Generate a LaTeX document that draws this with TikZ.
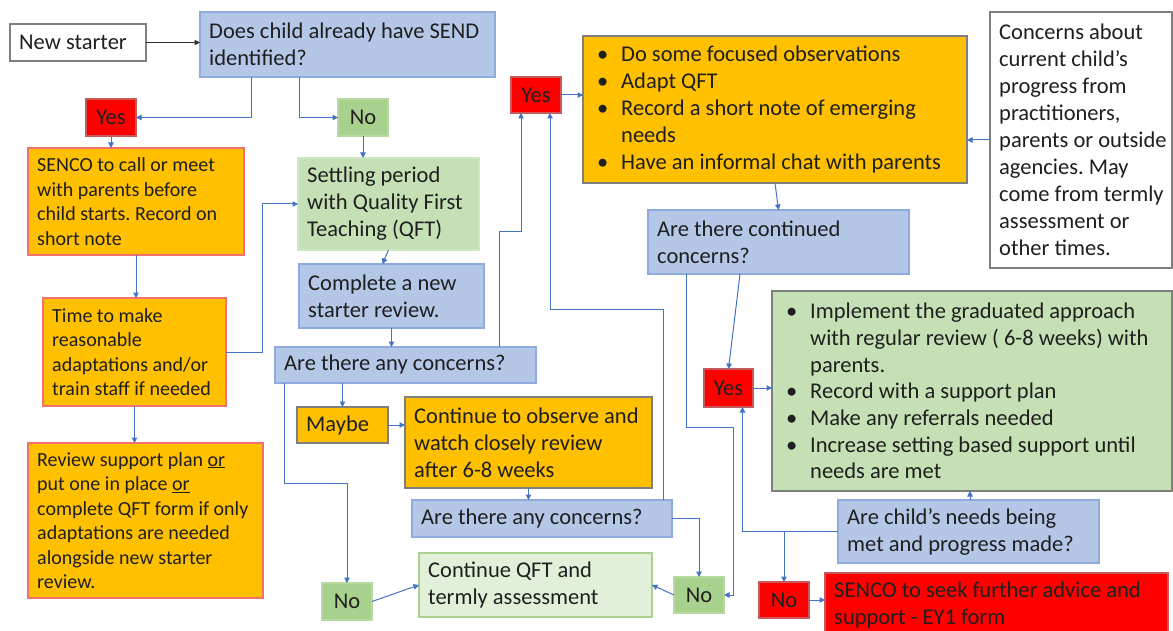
\documentclass[tikz,border=0pt]{standalone}
\usepackage{fontspec}
\setmainfont{Carlito}
\usetikzlibrary{arrows.meta}
\definecolor{bfill}{HTML}{B4C7E7}
\definecolor{bline}{HTML}{8FAADC}
\definecolor{ofill}{HTML}{FFC000}
\definecolor{oline}{HTML}{F4706B}
\definecolor{gline}{HTML}{7F7F7F}
\definecolor{rfill}{HTML}{FF0000}
\definecolor{rline}{HTML}{C55A5A}
\definecolor{nfill}{HTML}{A9D18E}
\definecolor{nline}{HTML}{B9DA9F}
\definecolor{sfill}{HTML}{C5E0B4}
\definecolor{sline}{HTML}{D0E6C2}
\definecolor{qfill}{HTML}{E2F0D9}
\definecolor{conn}{HTML}{4472C4}
\frenchspacing
% name, style, x1, y1, x2, y2, font style, text
\newcommand{\mkbox}[8]{%
  \node[#2, anchor=north west, minimum width={(#5-#3)*1pt}, minimum height={(#6-#4)*1pt}] (#1) at (#3,#4) {};
  \node[txt, #7, anchor=west] (#1-t) at ([xshift=9pt]#1.west) {#8};}
% name, style, x1, y1, x2, y2, text (centred)
\newcommand{\mktag}[7]{%
  \node[#2, fbig, text=black!88, anchor=north west, minimum width={(#5-#3)*1pt}, minimum height={(#6-#4)*1pt}] (#1) at (#3,#4) {#7};}
\newcommand{\bl}{\makebox[29pt][l]{\hspace{5pt}\textbullet}}
\newcommand{\bi}{\hspace*{29pt}}
\tikzset{
  box/.style={draw, line width=1.2pt, inner sep=0pt, outer sep=0pt},
  blueb/.style={box, fill=bfill, draw=bline},
  orngb/.style={box, fill=ofill, draw=oline},
  orngg/.style={box, fill=ofill, draw=gline},
  redb/.style={box, fill=rfill, draw=rline},
  nob/.style={box, fill=nfill, draw=nline},
  setlb/.style={box, fill=sfill, draw=sline},
  gradb/.style={box, fill=sfill, draw=gline},
  qftb/.style={box, fill=qfill, draw=nfill},
  whiteb/.style={box, fill=white, draw=gline},
  txt/.style={inner sep=0pt, align=left, text=black!88},
  fbig/.style={font=\fontsize{22.5}{27}\selectfont},
  fsmall/.style={font=\fontsize{20}{24.5}\selectfont},
  fgrad/.style={font=\fontsize{22.5}{26.7}\selectfont},
  cn/.style={draw=conn, line width=1pt, -{Triangle[length=5.5pt,width=5.5pt]}},
  cnk/.style={draw=black!80, line width=1pt, -{Triangle[length=5.5pt,width=5.5pt]}},
}
\begin{document}
\begin{tikzpicture}[x=1pt, y=-1pt]
\useasboundingbox (0,0) rectangle (1173,631);
% boxes
\mkbox{ns}{whiteb}{10}{24}{146}{61}{fbig}{New starter}
\mkbox{send}{blueb}{200}{12}{495}{77}{fbig}{Does child already have SEND\\identified?}
\mktag{yesL}{redb}{86}{99}{136}{136}{Yes}
\mktag{noT}{nob}{338}{99}{388}{136}{No}
\mkbox{senco}{orngb}{28}{148}{244}{255}{fsmall}{SENCO to call or meet\\with parents before\\child starts. Record on\\short note}
\mkbox{settle}{setlb}{298}{158}{479}{250}{fbig}{Settling period\\with Quality First\\Teaching (QFT)}
\mkbox{complete}{blueb}{299}{264}{484}{328}{fbig}{Complete a new\\starter review.}
\mkbox{time}{orngb}{43}{298}{226}{406}{fsmall}{Time to make\\reasonable\\adaptations and/or\\train staff if needed}
\mkbox{conc1}{blueb}{275}{347}{536}{383}{fbig}{Are there any concerns?}
\mkbox{maybe}{orngg}{297}{407}{388}{443}{fbig}{Maybe}
\mkbox{observe}{orngg}{405}{397}{652}{488}{fbig}{Continue to observe and\\watch closely review\\after 6-8 weeks}
\mkbox{review}{orngb}{28}{443}{263}{598}{fsmall}{Review support plan \underline{or}\\put one in place \underline{or}\\complete QFT form if only\\adaptations are needed\\alongside new starter\\review.}
\mkbox{conc2}{blueb}{412}{500}{672}{537}{fbig}{Are there any concerns?}
\mktag{noBL}{nob}{322}{583}{372}{620}{No}
\mkbox{qft}{qftb}{419}{553}{652}{617}{fbig}{Continue QFT and\\termly assessment}
\mktag{noM}{nob}{674}{577}{724}{613}{No}
\mktag{yesT}{redb}{511}{77}{561}{113}{Yes}
\mkbox{obs}{orngg}{583}{36}{967}{183}{fbig}{\bl Do some focused observations\\\bl Adapt QFT\\\bl Record a short note of emerging\\\bi needs\\\bl Have an informal chat with parents}
\mkbox{worry}{whiteb}{990}{12}{1172}{268}{fbig}{Concerns about\\current child’s\\progress from\\practitioners,\\parents or outside\\agencies. May\\come from termly\\assessment or\\other times.}
\mkbox{cont}{blueb}{648}{210}{909}{274}{fbig}{Are there continued\\concerns?}
\mkbox{grad}{gradb}{772}{291}{1172}{491}{fgrad}{\bl Implement the graduated approach\\\bi with regular review ( 6-8 weeks) with\\\bi parents.\\\bl Record with a support plan\\\bl Make any referrals needed\\\bl Increase setting based support until\\\bi needs are met}
\mktag{yesR}{redb}{704}{369}{753}{407}{Yes}
\mkbox{needs}{blueb}{838}{500}{1099}{563}{fbig}{Are child’s needs being\\met and progress made?}
\mktag{noR}{redb}{759}{582}{809}{618}{No}
\mkbox{seek}{redb}{825}{573}{1168}{636}{fbig}{SENCO to seek further advice and\\support - EY1 form}
% connectors
\draw[cnk] (ns.east) -- (ns.east -| send.west);
\draw[cn] ([xshift=51pt]send.south west) |- (yesL.east);
\draw[cn] ([xshift=99pt]send.south west) |- (noT.west);
\draw[cn] (yesL.south) -- (yesL.south |- senco.north);
\draw[cn] (noT.south) -- (noT.south |- settle.north);
\draw[cn] (settle.south) -- ([xshift=-9pt]complete.north);
\draw[cn] (complete.south) -- (complete.south |- conc1.north);
\draw[cn] (senco.south) -- (senco.south |- time.north);
\draw[cn] (time.south) -- (time.south |- review.north);
\draw[cn] (time.east) -- ++(36,0) |- (settle.west);
\draw[cn] (maybe.north |- conc1.south) -- (maybe.north);
\draw[cn] (maybe.east) -- (maybe.east -| observe.west);
\draw[cn] ([xshift=9pt]conc1.south west) -- ++(0,100) -| (noBL.north);
\draw[cn] (noBL.east) -- (qft.west);
\draw[cn] (observe.south) -- (observe.south |- conc2.north);
\draw[cn] (conc2.east) -| (noM.north);
\draw[cn] (noM.west) -- (qft.east);
\draw[cn] ([xshift=224pt]conc1.north west) -- ++(0,-115) -| ([xshift=-15pt]yesT.south);
\draw[cn] ([xshift=251pt]conc2.north west) -- ++(0,-191) -| ([xshift=14pt]yesT.south);
\draw[cn] (yesT.east) -- (yesT.east -| obs.west);
\draw[cn] (worry.west) -- (worry.west -| obs.east);
\draw[cn] (obs.south) -- (cont.north);
\draw[cn] ([xshift=38pt]cont.south west) -- ++(0,153) -- ++(47,0) |- (noM.east);
\draw[cn] ([xshift=92pt]cont.south west) -- (yesR.north);
\draw[cn] (yesR.east) -- (yesR.east -| grad.west);
\draw[cn] (needs.west) -| ([xshift=14pt]yesR.south);
\draw[cn] (noR.north |- needs.west) -- (noR.north);
\draw[cn] (noR.east) -- (noR.east -| seek.west);
\draw[cn] ([xshift=132pt]needs.north west) -- ++(0,-9);
\end{tikzpicture}
\end{document}
